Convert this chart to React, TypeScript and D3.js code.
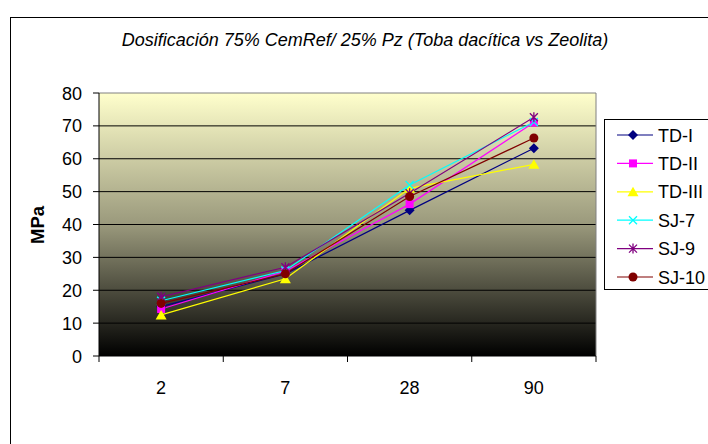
import React from 'react'
import * as d3 from 'd3'

const categories = ['2', '7', '28', '90']
const seriesNames = ['TD-I', 'TD-II', 'TD-III', 'SJ-7', 'SJ-9', 'SJ-10']
const tdI = [15, 25, 44.3, 63.2]
const tdII = [14.3, 25.8, 46.2, 71]
const tdIII = [12.5, 23.5, 51, 58.3]
const sj7 = [16.8, 26, 52, 71.2]
const sj9 = [18, 27, 49.5, 72.6]
const sj10 = [16, 25, 48.5, 66.3]
const yTicks = [0, 10, 20, 30, 40, 50, 60, 70, 80]

const seriesValues = [tdI, tdII, tdIII, sj7, sj9, sj10]
const colors = ['#000080', '#FF00FF', '#FFFF00', '#00FFFF', '#800080', '#800000']
const shapes = ['diamond', 'square', 'triangle', 'x', 'star', 'circle']

const W = 708
const H = 444
const left = 99
const right = 596
const top = 93
const bottom = 356
const font = 'Arial, "Liberation Sans", sans-serif'

function Marker({ shape, x, y, color }: { shape: string; x: number; y: number; color: string }) {
  if (shape === 'diamond') {
    return <path d={`M${x},${y - 5}L${x + 5},${y}L${x},${y + 5}L${x - 5},${y}Z`} fill={color} />
  }
  if (shape === 'square') {
    return <rect x={x - 4} y={y - 4} width={8} height={8} fill={color} />
  }
  if (shape === 'triangle') {
    return <path d={`M${x},${y - 5}L${x + 5.5},${y + 4.5}L${x - 5.5},${y + 4.5}Z`} fill={color} />
  }
  if (shape === 'x') {
    return (
      <path d={`M${x - 4},${y - 4}L${x + 4},${y + 4}M${x - 4},${y + 4}L${x + 4},${y - 4}`} stroke={color} strokeWidth={1.3} />
    )
  }
  if (shape === 'star') {
    return (
      <path
        d={`M${x - 4},${y - 4}L${x + 4},${y + 4}M${x - 4},${y + 4}L${x + 4},${y - 4}M${x},${y - 5}L${x},${y + 5}`}
        stroke={color}
        strokeWidth={1.3}
      />
    )
  }
  return <circle cx={x} cy={y} r={4.5} fill={color} />
}

export default function App() {
  const x = d3.scaleBand().domain(categories).range([left, right])
  const y = d3.scaleLinear().domain([0, 80]).range([bottom, top])
  const cx = (c: string) => (x(c) as number) + x.bandwidth() / 2
  const line = d3
    .line<number>()
    .x((_, i) => cx(categories[i]))
    .y(d => y(d))

  const boundaries = categories.map(c => x(c) as number).concat([right])

  return (
    <svg width={W} height={H} style={{ position: 'absolute', left: 0, top: 0 }} fontFamily={font}>
      <defs>
        <linearGradient id="bg" x1="0" y1="0" x2="0" y2="1">
          <stop offset="0" stopColor="#FFFFCC" />
          <stop offset="0.5" stopColor="#9A997C" />
          <stop offset="1" stopColor="#000000" />
        </linearGradient>
      </defs>
      <rect x={0} y={0} width={W} height={H} fill="#fff" />
      <rect x={10.5} y={17.5} width={W + 20} height={H + 20} fill="none" stroke="#000" strokeWidth={1} />
      <text x={365} y={46} textAnchor="middle" fontSize={18} fontStyle="italic" fill="#000">
        Dosificación 75% CemRef/ 25% Pz (Toba dacítica vs Zeolita)
      </text>

      <rect x={left} y={top} width={right - left} height={bottom - top} fill="url(#bg)" />
      {yTicks.slice(1, -1).map(t => (
        <line key={t} x1={left} x2={right} y1={y(t)} y2={y(t)} stroke="#000" strokeWidth={1} />
      ))}
      <line x1={left} x2={right} y1={top} y2={top} stroke="#808080" strokeWidth={1} />
      <line x1={right} x2={right} y1={top} y2={bottom} stroke="#808080" strokeWidth={1} />
      <line x1={left} x2={left} y1={top} y2={bottom} stroke="#000" strokeWidth={1} />
      <line x1={left} x2={right} y1={bottom} y2={bottom} stroke="#000" strokeWidth={1} />

      {yTicks.map(t => (
        <g key={t}>
          <line x1={left - 6} x2={left} y1={y(t)} y2={y(t)} stroke="#000" />
          <text x={82} y={y(t) + 6.5} textAnchor="end" fontSize={18} fill="#000">
            {t}
          </text>
        </g>
      ))}
      {boundaries.map((b, i) => (
        <line key={i} x1={b} x2={b} y1={bottom} y2={bottom + 6} stroke="#000" />
      ))}
      {categories.map(c => (
        <text key={c} x={cx(c)} y={394} textAnchor="middle" fontSize={18} fill="#000">
          {c}
        </text>
      ))}
      <text
        transform={`translate(44,225) rotate(-90)`}
        textAnchor="middle"
        fontSize={18.5}
        fontWeight="bold"
        fill="#000"
      >
        MPa
      </text>

      {seriesValues.map((vals, s) => (
        <path key={s} d={line(vals) as string} fill="none" stroke={colors[s]} strokeWidth={1.2} />
      ))}
      {seriesValues.map((vals, s) => (
        <g key={s}>
          {vals.map((v, i) => (
            <Marker key={i} shape={shapes[s]} x={cx(categories[i])} y={y(v)} color={colors[s]} />
          ))}
        </g>
      ))}

      <rect x={604.5} y={119.5} width={120} height={170} fill="#fff" stroke="#000" />
      {seriesNames.map((n, s) => {
        const ly = 135 + s * 28.4
        return (
          <g key={n}>
            <line x1={617} x2={653} y1={ly} y2={ly} stroke={colors[s]} strokeWidth={1.2} />
            <Marker shape={shapes[s]} x={633} y={ly} color={colors[s]} />
            <text x={658} y={ly + 6.5} fontSize={18} fill="#000">
              {n}
            </text>
          </g>
        )
      })}
    </svg>
  )
}
